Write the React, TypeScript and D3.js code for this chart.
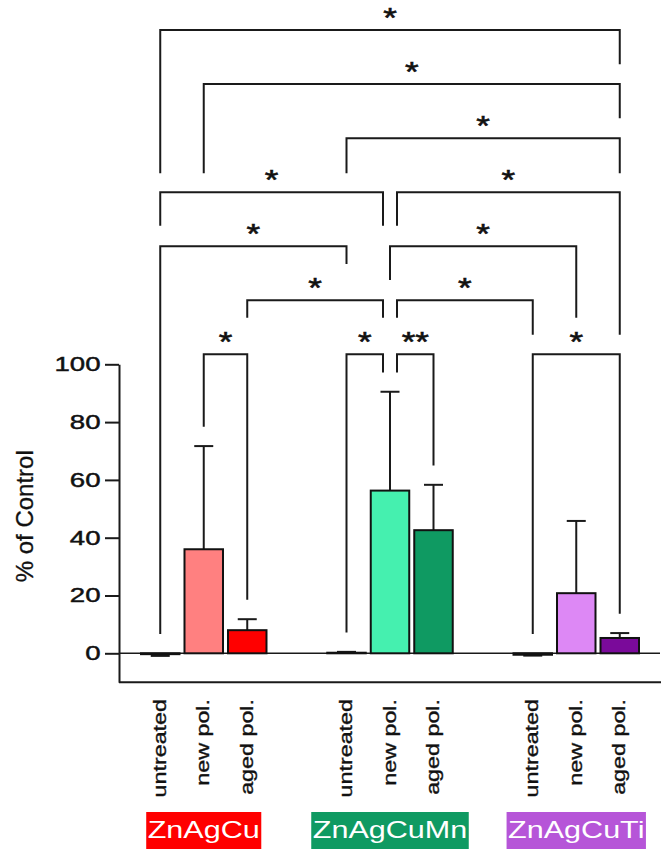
import * as d3 from 'd3'
import { useEffect, useRef, useState } from 'react'

const groups = ['ZnAgCu', 'ZnAgCuMn', 'ZnAgCuTi']
const treatments = ['untreated', 'new pol.', 'aged pol.']

// mean and SD (drawn one-sided) per group, in treatment order
const meanZnAgCu = [-0.3, 36.0, 8.0]
const sdZnAgCu = [0.6, 35.7, 3.8]
const meanZnAgCuMn = [0.2, 56.3, 42.6]
const sdZnAgCuMn = [0.3, 34.2, 15.7]
const meanZnAgCuTi = [-0.5, 20.8, 5.3]
const sdZnAgCuTi = [0.3, 25.0, 1.7]

const yTicks = [0, 20, 40, 60, 80, 100]

const barFills = [
  ['#ffffff', '#FF8080', '#FF0000'],
  ['#ffffff', '#45F0AF', '#0F9A62'],
  ['#ffffff', '#DD88F5', '#7A0A9A'],
]
const boxFills = ['#FF0000', '#0F9A62', '#B655D8']

// significance brackets: bar indices (0..8), stacking level, leg ends in % units
// (null = leg stops just above that bar's error bar)
type Bracket = {
  from: number
  to: number
  level: number
  left: number | null
  right: number | null
  label: string
}
const brackets: Bracket[] = [
  { from: 0, to: 8, level: 6, left: 166.1, right: 203.8, label: '*' },
  { from: 1, to: 8, level: 5, left: 166.1, right: 185.1, label: '*' },
  { from: 3, to: 8, level: 4, left: 166.1, right: 166.1, label: '*' },
  { from: 0, to: 4, level: 3, left: 147.9, right: 147.9, label: '*' },
  { from: 4, to: 8, level: 3, left: 147.9, right: 110.2, label: '*' },
  { from: 0, to: 3, level: 2, left: null, right: 134.7, label: '*' },
  { from: 4, to: 7, level: 2, left: 129.2, right: 116.1, label: '*' },
  { from: 2, to: 4, level: 1, left: 116.1, right: 116.1, label: '*' },
  { from: 4, to: 6, level: 1, left: 116.1, right: 110.2, label: '*' },
  { from: 1, to: 2, level: 0, left: null, right: null, label: '*' },
  { from: 3, to: 4, level: 0, left: null, right: null, label: '*' },
  { from: 4, to: 5, level: 0, left: null, right: null, label: '**' },
  { from: 6, to: 8, level: 0, left: null, right: null, label: '*' },
]

const FONT = '"Liberation Sans", Arial, sans-serif'
const STRETCH = 1.3
const INK = '#1a1a1a'

export default function App() {
  const width = 670
  const height = 856
  const plotLeft = 119
  const plotRight = 661

  const y = d3.scaleLinear([-10, 100], [682.2, 364.3])
  const xGroup = d3.scalePoint(groups, [plotLeft, plotRight]).padding(0.455)
  const xBar = d3
    .scaleBand(treatments, [-65.25, 65.25])
    .paddingInner(0.115)
    .paddingOuter(0.0575)
  const bw = xBar.bandwidth()

  const means = [meanZnAgCu, meanZnAgCuMn, meanZnAgCuTi]
  const sds = [sdZnAgCu, sdZnAgCuMn, sdZnAgCuTi]

  const bars = groups.flatMap((g, gi) =>
    treatments.map((t, ti) => {
      const v = means[gi][ti]
      const e = sds[gi][ti]
      const x0 = (xGroup(g) ?? 0) + (xBar(t) ?? 0)
      return { g, t, gi, ti, v, e, x0, cx: x0 + bw / 2 }
    })
  )
  const barTop = (i: number) => {
    const b = bars[i]
    return b.v > 0 ? b.v + b.e : 0
  }

  // brackets: base height and spacing between levels, in % units
  const bracketBase = 103.5
  const bracketStep = 18.69
  const legGap = 6.7
  const sideShift = 7

  const gy = useRef<SVGGElement>(null)
  const labelRefs = useRef<(SVGTextElement | null)[]>([])
  const [boxW, setBoxW] = useState<number[]>([115, 158, 138])

  useEffect(() => {
    const axis = d3.axisLeft(y).tickValues(yTicks).tickSize(14).tickSizeOuter(0).tickPadding(4)
    const g = d3.select(gy.current)
    g.call(axis)
    g.attr('font-size', 20).attr('font-family', FONT)
    g.select('.domain').attr('stroke', INK).attr('stroke-width', 2)
    g.selectAll('.tick line').attr('stroke', INK).attr('stroke-width', 2)
    g.selectAll('.tick text')
      .attr('fill', '#111')
      .attr('stroke', '#111')
      .attr('stroke-width', 0.45)
      .attr('x', -18.5 / 1.38)
      .attr('transform', 'scale(1.38,1)')
  }, [])

  useEffect(() => {
    const w = labelRefs.current.map((el) => (el ? el.getComputedTextLength() * STRETCH + 3 : 0))
    setBoxW(w)
  }, [])

  return (
    <svg
      width={width}
      height={height}
      style={{ position: 'absolute', left: 0, top: 0, background: '#fff' }}
      fontFamily={FONT}
    >
      {/* zero line and lower frame */}
      <line x1={plotLeft} x2={plotRight - 1} y1={y(0)} y2={y(0)} stroke={INK} strokeWidth={1.5} />
      <line x1={plotLeft} x2={plotRight} y1={y(-10)} y2={y(-10)} stroke={INK} strokeWidth={2} />
      <g ref={gy} transform={`translate(${plotLeft},0)`} />

      {/* error bars */}
      <g stroke={INK} strokeWidth={2}>
        {bars.map((b, i) => {
          const end = b.v >= 0 ? b.v + b.e : b.v - b.e
          return (
            <g key={i}>
              <line x1={b.cx} x2={b.cx} y1={y(b.v)} y2={y(end)} />
              <line x1={b.cx - 9.5} x2={b.cx + 9.5} y1={y(end)} y2={y(end)} />
            </g>
          )
        })}
      </g>

      {/* bars */}
      <g stroke="#111" strokeWidth={2}>
        {bars.map((b, i) => (
          <rect
            key={i}
            x={b.x0}
            width={bw}
            y={y(Math.max(0, b.v))}
            height={Math.abs(y(b.v) - y(0))}
            fill={barFills[b.gi][b.ti]}
          />
        ))}
      </g>

      {/* significance brackets */}
      <g>
        {brackets.map((br, i) => {
          const top = y(bracketBase + br.level * bracketStep)
          const shareLeft = brackets.some((o) => o !== br && o.level === br.level && o.to === br.from)
          const shareRight = brackets.some((o) => o !== br && o.level === br.level && o.from === br.to)
          const xl = bars[br.from].cx + (shareLeft ? sideShift : 0)
          const xr = bars[br.to].cx - (shareRight ? sideShift : 0)
          const yl = y(br.left ?? barTop(br.from) + legGap)
          const yr = y(br.right ?? barTop(br.to) + legGap)
          return (
            <g key={i}>
              <path
                d={`M${xl},${yl}V${top}H${xr}V${yr}`}
                fill="none"
                stroke={INK}
                strokeWidth={2}
              />
              <text
                transform={`translate(${(xl + xr) / 2},${top - 3}) scale(1.25,1)`}
                textAnchor="middle"
                fontSize={28}
                fill="#111"
                stroke="#111"
                strokeWidth={0.6}
              >
                {br.label}
              </text>
            </g>
          )
        })}
      </g>

      {/* y title */}
      <text
        transform={`translate(32.5,${(y(-10) + y(100)) / 2 - 7}) rotate(-90)`}
        textAnchor="middle"
        fontSize={24}
        fill="#111"
        stroke="#111"
        strokeWidth={0.3}
      >
        % of Control
      </text>

      {/* treatment labels */}
      <g fontSize={18.5} fill="#111" stroke="#111" strokeWidth={0.35}>
        {bars.map((b, i) => (
          <text
            key={i}
            transform={`translate(${b.cx + 5.5},699) rotate(-90) scale(1.26,1)`}
            textAnchor="end"
          >
            {b.t}
          </text>
        ))}
      </g>

      {/* group labels */}
      {groups.map((g, gi) => {
        const cx = xGroup(g) ?? 0
        return (
          <g key={g}>
            <rect x={cx - boxW[gi] / 2} y={812} width={boxW[gi]} height={37} fill={boxFills[gi]} />
            <text
              ref={(el) => {
                labelRefs.current[gi] = el
              }}
              transform={`translate(${cx},837.5) scale(${STRETCH},1)`}
              textAnchor="middle"
              fontSize={23.5}
              fill="#fff"
            >
              {g}
            </text>
          </g>
        )
      })}
    </svg>
  )
}
